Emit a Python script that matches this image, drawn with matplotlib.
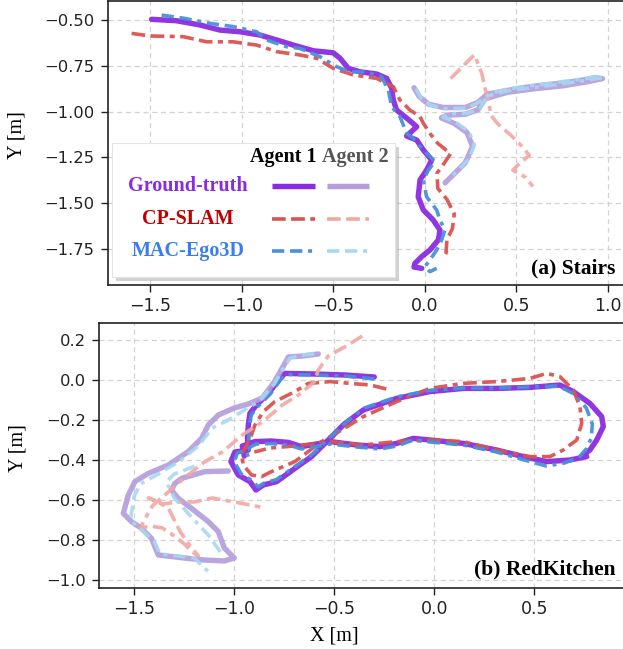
import numpy as np
import matplotlib
matplotlib.use("Agg")
import matplotlib.pyplot as plt
from matplotlib.lines import Line2D
from matplotlib.patches import Rectangle

# ---------------- data: (x, y) in metres ----------------
stairs_gt1 = np.array([
    (-1.494, -0.496), (-1.357, -0.504), (-1.230, -0.527), (-1.120, -0.555), (-1.011, -0.564),
    (-0.902, -0.582), (-0.810, -0.609), (-0.719, -0.637), (-0.610, -0.668), (-0.501, -0.679),
    (-0.464, -0.709), (-0.419, -0.764), (-0.355, -0.783), (-0.264, -0.795), (-0.209, -0.819),
    (-0.182, -0.873), (-0.173, -0.937), (-0.155, -0.992), (-0.100, -1.036), (-0.045, -1.083),
    (-0.100, -1.134), (-0.045, -1.156), (-0.009, -1.210), (0.037, -1.265), (0.009, -1.320),
    (-0.027, -1.374), (-0.037, -1.466), (-0.009, -1.538), (0.045, -1.593), (0.082, -1.648),
    (0.073, -1.702), (0.027, -1.757), (-0.018, -1.793), (-0.055, -1.830), (-0.060, -1.850),
    (-0.018, -1.857)])
stairs_gt2 = np.array([
    (-0.060, -0.870), (-0.030, -0.920), (0.020, -0.960), (0.100, -0.978), (0.220, -0.978),
    (0.290, -0.950), (0.340, -0.905), (0.450, -0.885), (0.550, -0.868), (0.650, -0.855),
    (0.750, -0.845), (0.850, -0.830), (0.930, -0.815), (0.970, -0.820), (0.900, -0.835),
    (0.750, -0.860), (0.600, -0.875), (0.450, -0.895), (0.330, -0.930), (0.290, -0.990),
    (0.220, -1.015), (0.120, -1.020), (0.090, -1.035), (0.160, -1.065), (0.230, -1.115),
    (0.260, -1.190), (0.220, -1.280), (0.150, -1.350), (0.110, -1.390)])
stairs_cp1 = np.array([
    (-1.603, -0.573), (-1.503, -0.587), (-1.321, -0.591), (-1.193, -0.619), (-1.048, -0.619),
    (-0.920, -0.637), (-0.810, -0.673), (-0.683, -0.691), (-0.592, -0.709), (-0.501, -0.764),
    (-0.392, -0.800), (-0.264, -0.819), (-0.173, -0.864), (-0.137, -0.937), (-0.082, -0.992),
    (-0.027, -1.028), (-0.009, -1.064), (0.027, -1.119), (0.070, -1.174), (0.140, -1.230),
    (0.100, -1.290), (0.066, -1.336), (0.070, -1.420), (0.120, -1.480), (0.160, -1.560),
    (0.150, -1.640), (0.120, -1.700), (0.115, -1.770), (0.150, -1.784)])
stairs_cp2 = np.array([
    (0.140, -0.820), (0.200, -0.760), (0.270, -0.690), (0.310, -0.790), (0.330, -0.880),
    (0.350, -0.950), (0.360, -1.020), (0.400, -1.070), (0.470, -1.130), (0.530, -1.190),
    (0.570, -1.240), (0.520, -1.280), (0.480, -1.320), (0.550, -1.360), (0.590, -1.410)])
stairs_mac1 = np.array([
    (-1.439, -0.473), (-1.320, -0.490), (-1.175, -0.518), (-1.048, -0.536), (-0.920, -0.564),
    (-0.865, -0.609), (-0.756, -0.646), (-0.683, -0.655), (-0.574, -0.700), (-0.483, -0.755),
    (-0.410, -0.783), (-0.319, -0.785), (-0.237, -0.810), (-0.200, -0.883), (-0.182, -0.974),
    (-0.137, -1.028), (-0.100, -1.119), (-0.064, -1.146), (-0.045, -1.174), (0.009, -1.228),
    (0.055, -1.274), (0.018, -1.320), (-0.009, -1.374), (0.009, -1.466), (0.064, -1.538),
    (0.082, -1.593), (0.109, -1.648), (0.091, -1.702), (0.064, -1.757), (0.027, -1.811),
    (0.000, -1.848), (0.027, -1.875), (0.064, -1.857)])
stairs_mac2 = np.array([
    (-0.050, -0.875), (-0.020, -0.930), (0.030, -0.965), (0.110, -0.985), (0.230, -0.982),
    (0.300, -0.945), (0.360, -0.900), (0.460, -0.875), (0.560, -0.860), (0.660, -0.850),
    (0.760, -0.835), (0.860, -0.822), (0.940, -0.810), (0.970, -0.815), (0.880, -0.830),
    (0.740, -0.850), (0.600, -0.868), (0.460, -0.885), (0.340, -0.915), (0.300, -0.985),
    (0.230, -1.010), (0.130, -1.012), (0.100, -1.030), (0.170, -1.060), (0.240, -1.110),
    (0.270, -1.180), (0.240, -1.260), (0.180, -1.320), (0.140, -1.360)])

kitchen_gt1 = np.array([
    (-0.300, 0.015), (-0.447, 0.025), (-0.600, 0.030), (-0.747, 0.033), (-0.772, 0.008),
    (-0.830, -0.067), (-0.889, -0.125), (-0.922, -0.167), (-0.930, -0.225), (-0.934, -0.292),
    (-0.930, -0.350), (-0.997, -0.360), (-1.017, -0.408), (-0.980, -0.475), (-0.922, -0.508),
    (-0.892, -0.550), (-0.855, -0.525), (-0.788, -0.508), (-0.697, -0.442), (-0.614, -0.383),
    (-0.530, -0.300), (-0.450, -0.220), (-0.355, -0.150), (-0.188, -0.092), (-0.022, -0.058),
    (0.145, -0.042), (0.312, -0.042), (0.478, -0.037), (0.628, -0.025), (0.695, -0.058),
    (0.778, -0.117), (0.837, -0.183), (0.845, -0.233), (0.812, -0.300), (0.778, -0.350),
    (0.745, -0.375), (0.762, -0.383), (0.678, -0.400), (0.562, -0.408), (0.445, -0.383),
    (0.312, -0.350), (0.145, -0.317), (-0.022, -0.300), (-0.105, -0.292), (-0.188, -0.317),
    (-0.272, -0.333), (-0.388, -0.325), (-0.520, -0.308), (-0.664, -0.333), (-0.730, -0.312),
    (-0.814, -0.305), (-0.897, -0.308), (-0.960, -0.330), (-0.950, -0.380)])
kitchen_gt2 = np.array([
    (-0.580, 0.130), (-0.660, 0.120), (-0.730, 0.115), (-0.760, 0.060), (-0.800, -0.010),
    (-0.860, -0.090), (-0.930, -0.120), (-1.000, -0.140), (-1.080, -0.175), (-1.130, -0.225),
    (-1.164, -0.292), (-1.230, -0.358), (-1.330, -0.425), (-1.430, -0.467), (-1.497, -0.508),
    (-1.530, -0.575), (-1.555, -0.667), (-1.514, -0.708), (-1.464, -0.742), (-1.414, -0.792),
    (-1.380, -0.875), (-1.250, -0.890), (-1.150, -0.900), (-1.050, -0.905), (-1.000, -0.890),
    (-1.050, -0.840), (-1.080, -0.758), (-1.130, -0.708), (-1.214, -0.642), (-1.280, -0.592),
    (-1.314, -0.550), (-1.297, -0.517), (-1.264, -0.492), (-1.147, -0.458), (-1.030, -0.455)])
kitchen_cp1 = np.array([
    (-0.240, -0.045), (-0.320, -0.025), (-0.420, -0.017), (-0.520, -0.008), (-0.630, -0.017),
    (-0.697, -0.058), (-0.797, -0.108), (-0.855, -0.158), (-0.897, -0.225), (-0.914, -0.275),
    (-0.940, -0.330), (-0.964, -0.367), (-0.955, -0.425), (-0.914, -0.475), (-0.864, -0.483),
    (-0.814, -0.458), (-0.697, -0.408), (-0.564, -0.308), (-0.447, -0.240), (-0.355, -0.183),
    (-0.188, -0.108), (-0.022, -0.042), (0.145, -0.017), (0.312, -0.008), (0.478, 0.008),
    (0.562, 0.033), (0.628, 0.017), (0.695, -0.050), (0.728, -0.133), (0.737, -0.217),
    (0.712, -0.300), (0.645, -0.350), (0.578, -0.383), (0.478, -0.383), (0.312, -0.350),
    (0.145, -0.308), (-0.022, -0.300), (-0.188, -0.308), (-0.355, -0.325), (-0.520, -0.308),
    (-0.700, -0.330), (-0.820, -0.340), (-0.900, -0.360)])
kitchen_cp2 = np.array([
    (-0.360, 0.220), (-0.440, 0.170), (-0.530, 0.120), (-0.580, 0.050), (-0.600, -0.010),
    (-0.680, -0.075), (-0.760, -0.125), (-0.860, -0.210), (-0.960, -0.275), (-1.060, -0.360),
    (-1.150, -0.410), (-1.250, -0.490), (-1.330, -0.560), (-1.410, -0.630), (-1.450, -0.700),
    (-1.470, -0.740), (-1.420, -0.730), (-1.360, -0.740), (-1.300, -0.780), (-1.250, -0.820),
    (-1.210, -0.860), (-1.180, -0.880), (-1.220, -0.830), (-1.270, -0.760), (-1.300, -0.700),
    (-1.330, -0.640), (-1.400, -0.600), (-1.430, -0.590), (-1.360, -0.620), (-1.280, -0.610),
    (-1.200, -0.610), (-1.110, -0.590), (-1.000, -0.610), (-0.870, -0.635)])
kitchen_mac1 = np.array([
    (-0.300, 0.005), (-0.447, 0.020), (-0.600, 0.025), (-0.740, 0.028), (-0.770, 0.000),
    (-0.820, -0.070), (-0.880, -0.130), (-0.915, -0.175), (-0.925, -0.230), (-0.928, -0.290),
    (-0.925, -0.345), (-0.985, -0.365), (-1.000, -0.410), (-0.965, -0.470), (-0.915, -0.500),
    (-0.880, -0.535), (-0.850, -0.515), (-0.790, -0.498), (-0.700, -0.435), (-0.610, -0.372),
    (-0.525, -0.290), (-0.440, -0.210), (-0.350, -0.140), (-0.188, -0.085), (-0.022, -0.052),
    (0.145, -0.040), (0.312, -0.040), (0.478, -0.035), (0.620, -0.030), (0.700, -0.070),
    (0.760, -0.140), (0.790, -0.220), (0.785, -0.290), (0.760, -0.345), (0.720, -0.390),
    (0.650, -0.415), (0.560, -0.430), (0.450, -0.400), (0.312, -0.360), (0.145, -0.325),
    (-0.022, -0.310), (-0.105, -0.300), (-0.188, -0.330), (-0.272, -0.345), (-0.388, -0.335),
    (-0.520, -0.320), (-0.664, -0.345), (-0.730, -0.325), (-0.814, -0.318), (-0.890, -0.320),
    (-0.940, -0.345), (-0.930, -0.390)])
kitchen_mac2 = np.array([
    (-0.600, 0.130), (-0.660, 0.125), (-0.720, 0.110), (-0.760, 0.050), (-0.800, -0.020),
    (-0.880, -0.110), (-0.950, -0.150), (-1.030, -0.200), (-1.110, -0.240), (-1.180, -0.330),
    (-1.280, -0.410), (-1.380, -0.470), (-1.470, -0.520), (-1.500, -0.580), (-1.520, -0.700),
    (-1.450, -0.760), (-1.400, -0.810), (-1.370, -0.870), (-1.280, -0.880), (-1.200, -0.890),
    (-1.150, -0.940), (-1.110, -0.975), (np.nan, np.nan),
    (-1.070, -0.860), (-1.130, -0.775), (-1.210, -0.690), (-1.300, -0.590), (-1.340, -0.510),
    (-1.300, -0.470), (-1.220, -0.440), (-1.170, -0.420)])

methods = ["Ground-truth", "CP-SLAM", "MAC-Ego3D"]
agents = ["Agent 1", "Agent 2"]
stairs_ticks_x = [-1.5, -1.0, -0.5, 0.0, 0.5, 1.0]
stairs_ticks_y = [-0.50, -0.75, -1.00, -1.25, -1.50, -1.75]
kitchen_ticks_x = [-1.5, -1.0, -0.5, 0.0, 0.5]
kitchen_ticks_y = [0.2, 0.0, -0.2, -0.4, -0.6, -0.8, -1.0]
panel_titles = ["(a) Stairs", "(b) RedKitchen"]

# ---------------- styles ----------------
colors = {
    ("Ground-truth", 0): "#8A2BE2", ("Ground-truth", 1): "#B39DDB",
    ("CP-SLAM", 0): "#D9534F", ("CP-SLAM", 1): "#F2A7A3",
    ("MAC-Ego3D", 0): "#4A90D9", ("MAC-Ego3D", 1): "#A6D8F2",
}
label_colors = {"Ground-truth": "#8A2BE2", "CP-SLAM": "#C00000", "MAC-Ego3D": "#3B7DF0"}
styles = {
    "Ground-truth": dict(lw=3.9, linestyle="-"),
    "CP-SLAM": dict(lw=2.6, linestyle=(0, (3.8, 1.5, 3.8, 1.5, 1.4, 1.5))),
    "MAC-Ego3D": dict(lw=2.6, linestyle=(0, (3.4, 1.6, 3.4, 1.6, 1.1, 1.6))),
}
serif = ["Liberation Serif", "DejaVu Serif"]

W, H = 623, 649
fig = plt.figure(figsize=(W / 100, H / 100), dpi=100)


def fx(px):
    return px / W


def fy(py):
    return 1 - py / H


ax1 = fig.add_axes([fx(108), fy(285), (640 - 108) / W, (285 - 1) / H])
ax1.set_xlim(-1.732, 1.175)
ax1.set_ylim(-1.948, -0.396)
ax2 = fig.add_axes([fx(99.3), fy(588), (640 - 99.3) / W, (588 - 323) / H])
ax2.set_xlim(-1.675, 1.0285)
ax2.set_ylim(-1.04, 0.285)

panels = [
    (ax1, {"Ground-truth": (stairs_gt1, stairs_gt2), "CP-SLAM": (stairs_cp1, stairs_cp2),
           "MAC-Ego3D": (stairs_mac1, stairs_mac2)}, stairs_ticks_x, stairs_ticks_y, "%.2f"),
    (ax2, {"Ground-truth": (kitchen_gt1, kitchen_gt2), "CP-SLAM": (kitchen_cp1, kitchen_cp2),
           "MAC-Ego3D": (kitchen_mac1, kitchen_mac2)}, kitchen_ticks_x, kitchen_ticks_y, "%.1f"),
]

for ax, series, tx, ty, yfmt in panels:
    for m in methods:
        for a, arr in enumerate(series[m]):
            ax.plot(arr[:, 0], arr[:, 1], color=colors[(m, a)],
                    alpha=0.95 if a == 0 else 0.9,
                    solid_capstyle="round", dash_capstyle="butt",
                    solid_joinstyle="round", zorder=3 + a * 0.1, **styles[m])
    ax.set_xticks(tx)
    ax.set_yticks(ty)
    ax.set_xticklabels([("%.1f" % v).replace("-", "\u2212") for v in tx])
    ax.set_yticklabels([(yfmt % v).replace("-", "\u2212") for v in ty])
    ax.grid(True, linestyle=(0, (4, 3)), color="#d2d2d2", lw=0.9, zorder=0)
    ax.set_axisbelow(True)
    ax.tick_params(axis="x", direction="out", length=4.8, width=1, pad=3.6,
                   labelsize=12.5, colors="#222222")
    ax.tick_params(axis="y", direction="out", length=4.8, width=1, pad=5.0,
                   labelsize=11.8, colors="#222222")
    for s in ax.spines.values():
        s.set_color("#222222")
        s.set_linewidth(1.2)

ax1.set_ylabel("Y [m]", family=serif, fontsize=14.5, va="center")
ax1.yaxis.set_label_coords((17 - 108) / 532, (285 - 135) / 284)
ax2.set_ylabel("Y [m]", family=serif, fontsize=14.5, va="center")
ax2.yaxis.set_label_coords((18 - 99.3) / 540.7, (588 - 448) / 265)
ax2.set_xlabel("X [m]", family=serif, fontsize=14.5, va="center")
ax2.xaxis.set_label_coords((334 - 99.3) / 540.7, (588 - 636) / 265)

fig.text(fx(615), fy(268), panel_titles[0], family=serif, fontweight="bold",
         fontsize=15.5, ha="right", va="center")
fig.text(fx(616), fy(569), panel_titles[1], family=serif, fontweight="bold",
         fontsize=15.5, ha="right", va="center")

# ---------------- custom legend ----------------
bx0, by0, bx1, by1 = 112, 143, 395, 277
fig.add_artist(Rectangle((fx(bx0 + 4), fy(by1 + 4)), (bx1 - bx0) / W, (by1 - by0) / H,
                         transform=fig.transFigure, facecolor="#9a9a9a", alpha=0.45,
                         edgecolor="none", zorder=5))
fig.add_artist(Rectangle((fx(bx0), fy(by1)), (bx1 - bx0) / W, (by1 - by0) / H,
                         transform=fig.transFigure, facecolor="white",
                         edgecolor="#e4e4e4", lw=0.8, zorder=6))
fig.text(fx(283), fy(157), agents[0], family=serif, fontweight="bold", fontsize=14.5,
         color="black", ha="center", va="center", zorder=7)
fig.text(fx(355), fy(157), agents[1], family=serif, fontweight="bold", fontsize=14.5,
         color="#555555", ha="center", va="center", zorder=7)
row_y = [186, 219, 251]
for m, ry in zip(methods, row_y):
    fig.text(fx(188), fy(ry), m, family=serif, fontweight="bold", fontsize=14.5,
             color=label_colors[m], ha="center", va="center", zorder=7)
    for a, (lx0, lx1) in enumerate([(272, 315), (327, 369)]):
        fig.add_artist(Line2D([fx(lx0), fx(lx1)], [fy(ry), fy(ry)], transform=fig.transFigure,
                              color=colors[(m, a)], solid_capstyle="butt",
                              dash_capstyle="butt", zorder=7, **styles[m]))

fig.savefig("out.png", dpi=100)
